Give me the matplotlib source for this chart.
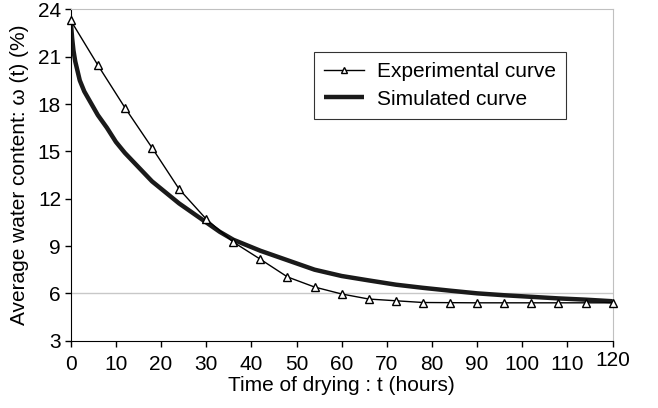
import matplotlib
matplotlib.use("Agg")
import matplotlib.pyplot as plt
import matplotlib.transforms as mtransforms

# experimental measurements, every 6 hours
t_exp = [0, 6, 12, 18, 24, 30, 36, 42, 48, 54, 60, 66, 72, 78, 84, 90, 96, 102, 108, 114, 120]
w_exp = [23.3, 20.47, 17.77, 15.23, 12.61, 10.71, 9.25, 8.16, 7.04, 6.40, 5.96,
         5.64, 5.53, 5.42, 5.41, 5.40, 5.40, 5.40, 5.40, 5.40, 5.40]

# simulated curve
t_sim = [0, 0.3, 0.6, 1, 2, 3, 4, 6, 8, 10, 12, 15, 18, 21, 24, 27, 30, 33, 36,
         42, 48, 54, 60, 66, 72, 78, 84, 90, 96, 102, 108, 114, 120]
w_sim = [23.3, 22.2, 21.4, 20.7, 19.5, 18.8, 18.3, 17.3, 16.5, 15.6, 14.9, 14.0,
         13.1, 12.4, 11.7, 11.1, 10.5, 9.9, 9.4, 8.7, 8.1, 7.5, 7.1, 6.82, 6.55,
         6.35, 6.17, 6.0, 5.88, 5.78, 5.68, 5.6, 5.5]

x_ticks = list(range(0, 121, 10))
y_ticks = list(range(3, 25, 3))

plt.rcParams['font.family'] = ['Liberation Sans', 'DejaVu Sans']

fig = plt.figure(figsize=(6.58, 4.08), dpi=100)
ax = fig.add_axes([0.1075, 0.165, 0.8235, 0.812])

ax.axhline(6, color='#c8c8c8', lw=1, zorder=0)

ax.plot(t_exp, w_exp, color='black', lw=1, marker='^', markersize=6,
        markerfacecolor='white', markeredgecolor='black', markeredgewidth=1,
        label='Experimental curve', zorder=3, clip_on=False)
ax.plot(t_sim, w_sim, color='#1a1a1a', lw=3.2, label='Simulated curve',
        zorder=2, solid_capstyle='butt')

ax.set_xlim(0, 120)
ax.set_ylim(3, 24)
ax.set_xticks(x_ticks)
ax.set_yticks(y_ticks)
ax.tick_params(labelsize=15, length=4, width=1, direction='out')
ax.tick_params(axis='x', pad=6)
ax.tick_params(axis='y', pad=3)

# the last x label sits a bit higher in the original
last = ax.get_xticklabels()[-1]
last.set_transform(last.get_transform() +
                   mtransforms.ScaledTranslation(0, 4 / 100, fig.dpi_scale_trans))

for side in ['top', 'right']:
    ax.spines[side].set_color('#c0c0c0')
for side in ['left', 'bottom']:
    ax.spines[side].set_color('black')

ax.set_xlabel("Time of drying : t (hours)", fontsize=15, labelpad=2)
ax.set_ylabel("Average water content: \u03c9 (t) (%)", fontsize=15, labelpad=6)

leg = ax.legend(loc='upper left', bbox_to_anchor=(0.449, 0.872), fontsize=15,
                frameon=True, fancybox=False, handlelength=1.9,
                borderpad=0.5, labelspacing=0.4, markerscale=0.7,
                handletextpad=0.6, borderaxespad=0)
leg.get_frame().set_edgecolor('black')
leg.get_frame().set_linewidth(0.8)

fig.savefig("out.png", dpi=100)
